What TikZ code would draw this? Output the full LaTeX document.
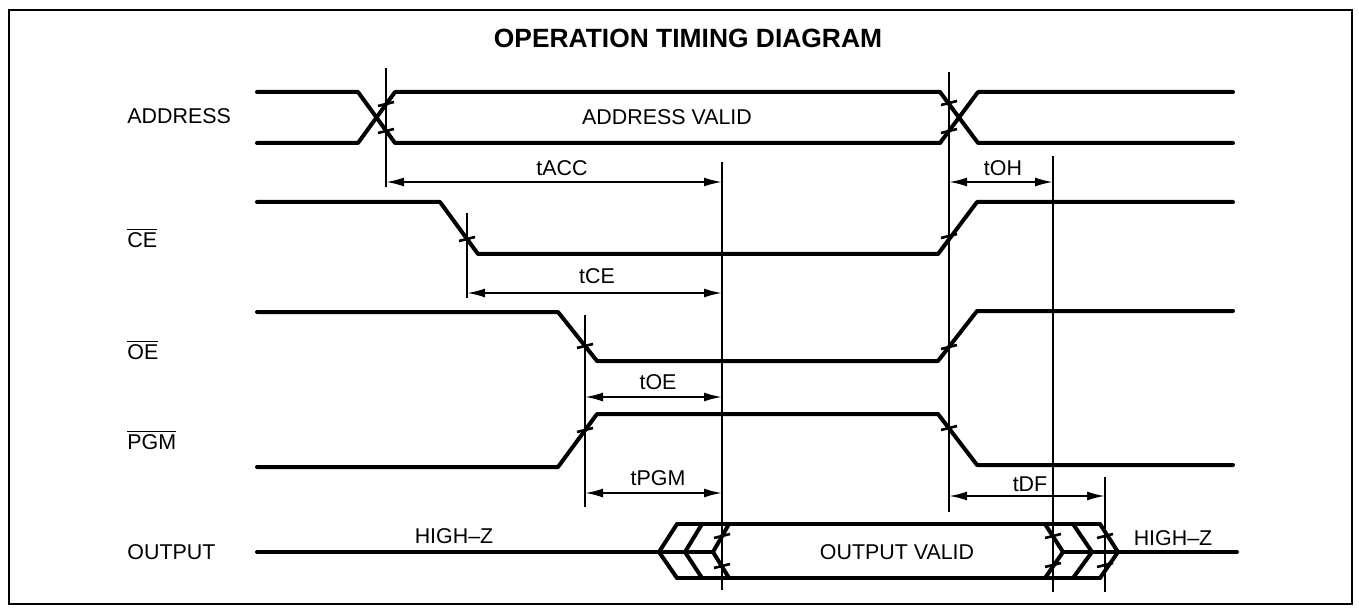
\documentclass[tikz,border=0pt]{standalone}
\usepackage{amsmath}
\usepackage{fontspec}
\setmainfont{Liberation Sans}
\usepackage{tikz}
\usetikzlibrary{positioning,arrows.meta,calc}

\newcommand{\ovl}[1]{$\overline{\mbox{#1}}$}

\begin{document}
\begin{tikzpicture}[
  x=0.5pt,y=-0.5pt,
  font=\fontsize{10.7}{12}\selectfont,>={Latex[length=9pt,width=4.5pt]},
  sig/.style={line width=2pt,line cap=round,line join=round},
  vl/.style={line width=1pt},
  tic/.style={line width=1.3pt},
  dim/.style={<->,line width=1pt},
  signame/.style={anchor=west,inner sep=0pt},
  tlab/.style={inner sep=0pt},
]
  \useasboundingbox (0,0) rectangle (1359,609);
  \draw[line width=1pt] (9,10) rectangle (1352,604);
  \node[font=\fontsize{13.2}{15}\selectfont\bfseries] (title) at (688,38) {OPERATION TIMING DIAGRAM};

  \node[signame] (nAd) at (127,116) {ADDRESS};
  \node[signame] (nCe) at (127,238) {\ovl{CE}};
  \node[signame] (nOe) at (127,350) {\ovl{OE}};
  \node[signame] (nPg) at (127,440) {\ovl{PGM}};
  \node[signame] (nOu) at (127,552) {OUTPUT};

  % waveforms
  \draw[sig] (257,92) -- (358,92) -- (395,143) -- (940,143) -- (978,92) -- (1233,92);
  \draw[sig] (257,143) -- (358,143) -- (395,92) -- (940,92) -- (978,143) -- (1233,143);
  \draw[sig] (257,202) -- (440,202) -- (478,254) -- (938,254) -- (977,202) -- (1233,202);
  \draw[sig] (257,312) -- (558,312) -- (597,361) -- (938,361) -- (977,311) -- (1233,311);
  \draw[sig] (257,467) -- (558,467) -- (597,414) -- (938,414) -- (977,465) -- (1233,465);

  \draw[sig] (257,552) -- (713,552);
  \draw[sig] (677,524) -- (1100,524);
  \draw[sig] (677,578) -- (1100,578);
  \draw[sig] (677,524) -- (659,552) -- (677,578);
  \draw[sig] (702,524) -- (685,552) -- (702,578);
  \draw[sig] (729,524) -- (713,552) -- (729,578);
  \draw[sig] (1063,552) -- (1237,552);
  \draw[sig] (1045,524) -- (1063,552) -- (1045,578);
  \draw[sig] (1073,524) -- (1092,552) -- (1073,578);
  \draw[sig] (1100,524) -- (1118,552) -- (1100,578);

  \node[tlab] (adv) at (667,117) {ADDRESS VALID};
  \node[tlab] (ouv) at (897,552) {OUTPUT VALID};
  \node[tlab] (hz1) at (454,536) {HIGH--Z};
  \node[tlab] (hz2) at (1173,538) {HIGH--Z};

  % reference lines
  \draw[vl] (386,68) -- (386,187);
  \draw[vl] (467,213) -- (467,298);
  \draw[vl] (585,315) -- (585,507);
  \draw[vl] (722,162) -- (722,590);
  \draw[vl] (949,72) -- (949,512);
  \draw[vl] (1053,156) -- (1053,592);
  \draw[vl] (1105,477) -- (1105,592);

  \foreach \p in {(386,104),(386,131),(949,103),(949,131),(467,239),(949,236),
                  (585,346),(949,347),(585,430),(949,428),
                  (722,536),(722,566),(1053,536),(1053,565),(1105,536),(1105,565)}
    \draw[tic] \p +(-8,2) -- +(8,-2);

  % timing arrows
  \coordinate (acc1) at (386,182); \coordinate (acc2) at (722,182);
  \coordinate (ce1) at (467,293);  \coordinate (ce2) at (722,293);
  \coordinate (oe1) at (585,397);  \coordinate (oe2) at (722,397);
  \coordinate (pg1) at (585,493);  \coordinate (pg2) at (722,493);
  \coordinate (oh1) at (949,182);  \coordinate (oh2) at (1053,182);
  \coordinate (df1) at (949,496);  \coordinate (df2) at (1105,496);
  \draw[dim] (acc1) -- (acc2);
  \draw[dim] (ce1) -- (ce2);
  \draw[dim] (oe1) -- (oe2);
  \draw[dim] (pg1) -- (pg2);
  \draw[dim] (oh1) -- (oh2);
  \draw[dim] (df1) -- (df2);
  \node[tlab] (lacc) at (562,168) {tACC};
  \node[tlab] (lce) at (597,276) {tCE};
  \node[tlab] (loe) at (658,382) {tOE};
  \node[tlab] (lpg) at (658,478) {tPGM};
  \node[tlab] (loh) at (1003,168) {tOH};
  \node[tlab] (ldf) at (1030,484) {tDF};
\end{tikzpicture}
\end{document}
